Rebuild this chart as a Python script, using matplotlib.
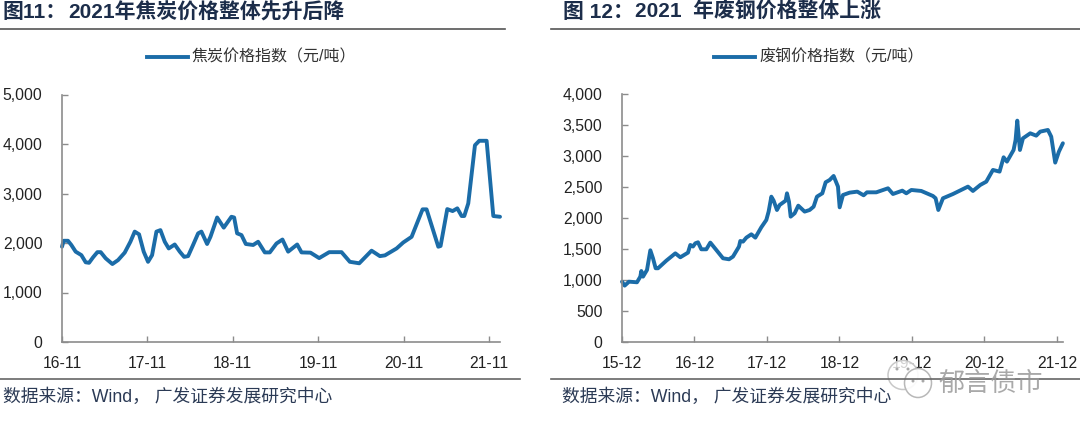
import matplotlib
matplotlib.use('Agg')
import matplotlib.pyplot as plt
from matplotlib.patches import Ellipse

plt.rcParams['font.family'] = ['Liberation Sans', 'Noto Sans CJK SC', 'DejaVu Sans']

W, H = 1080, 429
LINE_COLOR = '#1b6ca8'
AXIS_COLOR = '#8c8c8c'
TITLE_COLOR = '#1c2d4a'
TEXT_COLOR = '#222222'

# Coke price index, months since 2016-11
coke_months = [0, 0.23, 0.84, 1.31, 1.92, 2.72, 3.33, 3.80, 4.36, 4.97, 5.44, 6.14, 7.08, 7.88,
               8.81, 9.61, 10.22, 10.83, 11.48, 12.09, 12.66, 13.27, 13.83, 14.44, 15.0, 15.84,
               16.55, 17.16, 17.72, 18.42, 19.13, 19.59, 20.39, 20.86, 21.8, 22.73, 23.81, 24.19,
               24.61, 25.22, 25.83, 26.86, 27.56, 28.5, 29.2, 30.14, 30.98, 31.78, 33.05, 33.66,
               34.92, 36.14, 37.55, 39.28, 40.45, 41.77, 43.5, 44.67, 45.38, 47.02, 47.95, 49.13,
               50.67, 51.23, 52.88, 53.2, 54.14, 54.89, 55.55, 56.16, 56.53, 57.09, 58.03, 58.64,
               59.67, 60.61, 61.55]
coke_values = [1925, 2045, 2045, 1960, 1825, 1755, 1610, 1600, 1710, 1815, 1815, 1690, 1575, 1655,
               1805, 2025, 2230, 2175, 1825, 1620, 1755, 2230, 2260, 2025, 1890, 1970,
               1825, 1720, 1735, 1960, 2195, 2230, 1980, 2125, 2515, 2310, 2530, 2515,
               2195, 2160, 1980, 1960, 2025, 1810, 1810, 1990, 2070, 1825, 1970, 1810,
               1805, 1695, 1815, 1815, 1620, 1590, 1845, 1735, 1750, 1890, 2010, 2125,
               2680, 2680, 1925, 1940, 2685, 2645, 2700, 2545, 2545, 2800, 3975, 4065,
               4065, 2545, 2530]
coke_ticks = ['16-11', '17-11', '18-11', '19-11', '20-11', '21-11']

# Scrap steel price index, months since 2015-12
scrap_months = [0, 0.44, 1.16, 2.48, 3.03, 3.2, 3.48, 4.14, 4.69, 5.13, 5.57, 5.96, 7.34, 8.83,
                9.65, 10.92, 11.31, 11.75, 12.14, 12.58, 13.13, 13.96, 14.62, 15.61, 16.72, 17.71,
                18.37, 19.36, 19.58, 20.03, 20.58, 21.41, 22.07, 23.06, 23.89, 24.27, 24.72, 25.1,
                25.65, 26.1, 27.09, 27.31, 27.64, 27.92, 28.58, 29.18, 30.23, 31.06, 31.72, 32.27,
                33.16, 33.71, 34.37, 35.03, 35.75, 36.03, 36.58, 37.68, 38.95, 40.0, 40.55, 42.09,
                44.03, 44.85, 46.4, 47.06, 47.89, 49.54, 51.47, 51.91, 52.36, 53.13, 54.79, 57.27,
                58.09, 59.31, 60.3, 61.4, 62.5, 63.17, 63.72, 64.82, 65.15, 65.43, 65.87, 66.37,
                67.58, 68.57, 69.23, 70.5, 71.05, 71.71, 72.32, 72.98]
scrap_values = [978, 914, 978, 968, 1059, 1150, 1059, 1167, 1484, 1355, 1194, 1194, 1317, 1435,
                1371, 1446, 1570, 1545, 1597, 1613, 1500, 1500, 1608, 1489, 1355, 1339,
                1382, 1543, 1634, 1624, 1688, 1742, 1688, 1855, 1973, 2108, 2349, 2285,
                2134, 2215, 2285, 2403, 2269, 2027, 2081, 2204, 2108, 2134, 2188, 2349,
                2403, 2581, 2618, 2683, 2511, 2177, 2376, 2414, 2430, 2371, 2419, 2419,
                2484, 2392, 2446, 2403, 2457, 2441, 2360, 2323, 2134, 2323, 2392, 2511,
                2441, 2538, 2591, 2780, 2753, 2984, 2914, 3102, 3263, 3575, 3102, 3290,
                3371, 3333, 3398, 3425, 3317, 2898, 3075, 3210]
scrap_ticks = ['15-12', '16-12', '17-12', '18-12', '19-12', '20-12', '21-12']


def px_axes(left, top, right, bottom):
    return fig.add_axes([left / W, 1 - bottom / H, (right - left) / W, (bottom - top) / H])


def draw_panel(ax, months, values, labels, xmax, ymax, ystep):
    ax.plot(months, values, color=LINE_COLOR, lw=2.8, solid_joinstyle='round', solid_capstyle='round', clip_on=False)
    ax.set_xlim(0, xmax)
    ax.set_ylim(0, ymax)
    ax.set_xticks([i * 12 for i in range(len(labels))])
    ax.set_xticklabels(labels)
    ax.set_yticks(range(0, ymax + 1, ystep))
    ax.set_yticklabels([f'{v:,}' for v in range(0, ymax + 1, ystep)])
    ax.tick_params(axis='both', direction='in', length=4, width=1, color=AXIS_COLOR, labelsize=11.3, labelcolor=TEXT_COLOR)
    ax.tick_params(axis='x', pad=10)
    ax.tick_params(axis='y', pad=14)
    for side in ['top', 'right']:
        ax.spines[side].set_visible(False)
    for side in ['left', 'bottom']:
        ax.spines[side].set_color(AXIS_COLOR)
        ax.spines[side].set_linewidth(1.2)


def px_text(x, y, s, **kw):
    fig.text(x / W, 1 - y / H, s, va='center', **kw)


def px_line(x0, x1, y, color, lw):
    fig.add_artist(plt.Line2D([x0 / W, x1 / W], [1 - y / H, 1 - y / H], color=color, lw=lw))


def px_ellipse(cx, cy, w, h, face, edge):
    fig.add_artist(Ellipse((cx / W, 1 - cy / H), w / W, h / H, transform=fig.transFigure,
                           facecolor=face, edgecolor=edge, lw=1.1))


fig = plt.figure(figsize=(W / 100, H / 100), dpi=100)

ax1 = px_axes(62, 94.5, 500, 342)
draw_panel(ax1, coke_months, coke_values, coke_ticks, 61.55, 5000, 1000)
ax2 = px_axes(622, 94.3, 1063, 342.3)
draw_panel(ax2, scrap_months, scrap_values, scrap_ticks, 73, 4000, 500)

# titles
title_style = dict(fontsize=15, fontweight='bold', color=TITLE_COLOR)
px_text(3, 12, '图11：', **title_style)
px_text(68, 12, '2021年焦炭价格整体先升后降', **title_style)
px_text(563, 12, '图 12：', **title_style)
px_text(635, 12, '2021  年废钢价格整体上涨', **title_style)
px_line(0, 505, 28.5, '#555555', 1.2)
px_line(551, 1080, 28.5, '#555555', 1.2)

# legends
px_line(147, 188, 56.5, LINE_COLOR, 2.8)
px_text(192, 56.5, '焦炭价格指数（元/吨）', fontsize=11.5, color='#333333')
px_line(714, 755, 56.5, LINE_COLOR, 2.8)
px_text(759, 56.5, '废钢价格指数（元/吨）', fontsize=11.5, color='#333333')

# source lines
px_line(0, 520, 378.5, '#666666', 1.2)
px_line(551, 1080, 379, '#666666', 1.2)
px_text(3, 397, '数据来源：Wind， 广发证券发展研究中心', fontsize=12.8, color='#2b3a55')
px_text(562, 397, '数据来源：Wind， 广发证券发展研究中心', fontsize=12.8, color='#2b3a55')

# watermark
px_ellipse(903, 375, 30, 29, (1, 1, 1, 0.8), '#c8c8c8')
px_ellipse(918, 383, 27, 29, (1, 1, 1, 0.9), '#b8b8b8')
for cx, cy in [(897, 369), (908, 369), (913, 381), (923, 381)]:
    px_ellipse(cx, cy, 3, 3, '#a8a8a8', 'none')
px_text(938, 384, '郁言债市', fontsize=18.8, color='#9a9a9a', alpha=0.85)

fig.savefig('out.png', dpi=100)
